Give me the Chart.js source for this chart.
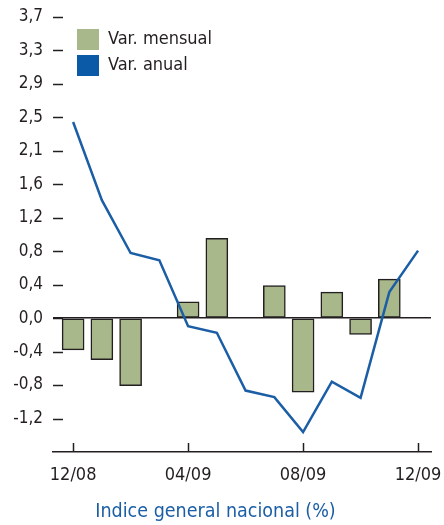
<!DOCTYPE html>
<html><head><meta charset="utf-8">
<script src="https://cdn.jsdelivr.net/npm/chart.js@4/dist/chart.umd.min.js"></script>
<style>html,body{margin:0;padding:0;background:#fff}</style>
</head><body>
<canvas id="c" width="444" height="525"></canvas>
<script>
const months = ['12/08','01/09','02/09','03/09','04/09','05/09','06/09','07/09','08/09','09/09','10/09','11/09','12/09'];
const monthlyChange = [-0.39,-0.51,-0.83,null,0.20,0.98,null,0.40,-0.91,0.32,-0.20,0.48,null];
const annualChange = [2.41,1.45,0.80,0.71,-0.10,-0.18,-0.89,-0.97,-1.40,-0.78,-0.98,0.32,0.83];
const xTickMonths = ['12/08','04/09','08/09','12/09'];
const yTickLabels = ['-1,2','-0,8','-0,4','0,0','0,4','0,8','1,2','1,6','2,1','2,5','2,9','3,3','3,7'];
const seriesNames = ['Var. mensual','Var. anual'];
const chartTitle = 'Indice general nacional (%)';

const FONT = "'DejaVu Sans Condensed','Liberation Sans Narrow',sans-serif";
const INK = '#231f20';
const BLUE = '#1b5ea6';
const GREEN = '#a8b88b';
const yStep = 3.7 / 9;

const tickMarks = {
  id: 'tickMarks',
  beforeDatasetsDraw(chart) {
    const {ctx, chartArea, scales: {x, y}} = chart;
    ctx.save();
    ctx.strokeStyle = INK;
    ctx.lineWidth = 1.5;
    y.ticks.forEach(t => {
      const py = Math.round(y.getPixelForValue(t.value)) + 0.5;
      ctx.beginPath(); ctx.moveTo(chartArea.left, py); ctx.lineTo(chartArea.left + 10, py); ctx.stroke();
    });
    x.ticks.forEach(t => {
      const px = Math.round(x.getPixelForValue(t.value)) + 0.5;
      ctx.beginPath(); ctx.moveTo(px, chartArea.bottom); ctx.lineTo(px, chartArea.bottom - 9); ctx.stroke();
    });
    ctx.restore();
  }
};
const legendShift = {
  id: 'legendShift',
  afterLayout(chart) {
    const lg = chart.legend;
    if (lg) {
      const w = lg.width, h = lg.height;
      lg.left = chart.chartArea.left + 19;
      lg.top = chart.chartArea.top + 7;
      lg.right = lg.left + w;
      lg.bottom = lg.top + h;
    }
  }
};

new Chart(document.getElementById('c'), {
  type: 'bar',
  data: {
    datasets: [
      {
        type: 'bar',
        label: seriesNames[0],
        data: months.map((m, i) => ({x: i, y: monthlyChange[i]})),
        backgroundColor: GREEN,
        borderColor: INK,
        borderWidth: 1.5,
        borderSkipped: false,
        barThickness: 22,
        order: 1
      },
      {
        type: 'line',
        label: seriesNames[1],
        data: months.map((m, i) => ({x: i, y: annualChange[i]})),
        borderColor: BLUE,
        backgroundColor: '#0b5aa8',
        borderWidth: 2.5,
        pointRadius: 0,
        tension: 0,
        fill: false,
        order: 0
      }
    ]
  },
  options: {
    responsive: false,
    animation: false,
    events: [],
    layout: {padding: {top: 17, right: 13, left: 0, bottom: 0}},
    plugins: {
      tooltip: {enabled: false},
      legend: {
        position: 'chartArea',
        align: 'start',
        labels: {
          boxWidth: 22,
          boxHeight: 21,
          padding: 5,
          color: INK,
          font: {family: FONT, size: 18},
          sort: (a, b) => a.datasetIndex - b.datasetIndex,
          generateLabels: (chart) => Chart.defaults.plugins.legend.labels.generateLabels(chart).map(l => Object.assign(l, {lineWidth: 0}))
        }
      },
      title: {
        display: true,
        text: chartTitle,
        position: 'bottom',
        color: BLUE,
        font: {family: FONT, size: 19.5, weight: 'normal'},
        padding: {top: 2, bottom: 1}
      }
    },
    scales: {
      x: {
        type: 'linear',
        offset: false,
        min: -0.7,
        max: 12.45,
        grid: {display: false, drawTicks: false},
        border: {display: true, color: INK, width: 1.5},
        afterBuildTicks: s => { s.ticks = xTickMonths.map(m => ({value: months.indexOf(m)})); },
        afterFit: s => { s.paddingLeft = 0; s.paddingRight = 0; },
        ticks: {
          autoSkip: false,
          maxRotation: 0,
          padding: 12.5,
          color: INK,
          font: {family: FONT, size: 18},
          callback: v => months[v]
        }
      },
      y: {
        min: -4 * yStep,
        max: 9 * yStep,
        afterFit: s => { s.width = 53; s.paddingTop = 0; s.paddingBottom = 0; },
        afterBuildTicks: s => { s.ticks = yTickLabels.map((l, i) => ({value: (i - 3) * yStep})); },
        grid: {
          drawTicks: false,
          color: c => (c.tick && Math.abs(c.tick.value) < 1e-9) ? INK : 'rgba(0,0,0,0)',
          lineWidth: 1.5
        },
        border: {display: false},
        ticks: {
          autoSkip: false,
          padding: 10,
          color: INK,
          font: {family: FONT, size: 17},
          callback: (v, i) => yTickLabels[i]
        }
      }
    }
  },
  plugins: [tickMarks, legendShift]
});
</script>
</body></html>
